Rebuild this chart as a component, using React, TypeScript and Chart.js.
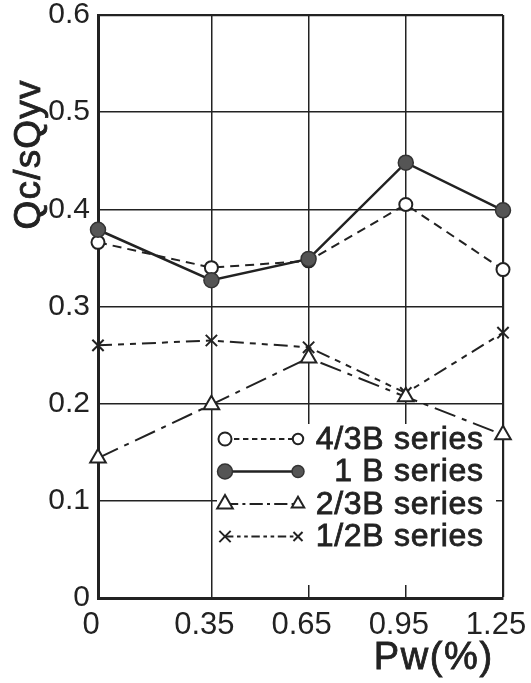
import React, { useEffect, useRef } from 'react';
import { Chart, registerables } from 'chart.js';
import { drawPoint } from 'chart.js/helpers';

Chart.register(...registerables);

// ---- data ----
const xValues = [0, 0.35, 0.65, 0.95, 1.25];
const xTickLabels = ['0', '0.35', '0.65', '0.95', '1.25'];
const yMin = 0;
const yMax = 0.6;
const yStep = 0.1;
const series43B = [0.366, 0.340, 0.347, 0.405, 0.338];
const series1B = [0.379, 0.327, 0.349, 0.448, 0.399];
const series23B = [0.144, 0.199, 0.247, 0.207, 0.168];
const series12B = [0.260, 0.265, 0.258, 0.211, 0.273];
const legendLabels = ['4/3B series', '1 B series', '2/3B series', '1/2B series'];
const yTitle = 'Qc/sQyv';
const xTitle = 'Pw(%)';

const FONT = '"Liberation Sans", Arial, sans-serif';
const INK = '#222';

const pts = (vals: number[]) => vals.map((v, i) => ({ x: xValues[i], y: v }));

function fitSpacing(ctx: CanvasRenderingContext2D, text: string, width: number) {
  ctx.letterSpacing = '0px';
  const w = ctx.measureText(text).width;
  return (width - w) / text.length;
}

// draw text with a thin stroke to mimic the heavier lettering of the original
function heavyText(ctx: CanvasRenderingContext2D, text: string, x: number, y: number) {
  ctx.lineWidth = 0.8;
  ctx.strokeStyle = ctx.fillStyle as string;
  ctx.setLineDash([]);
  ctx.fillText(text, x, y);
  ctx.strokeText(text, x, y);
}

export default function App() {
  const ref = useRef<HTMLCanvasElement | null>(null);

  useEffect(() => {
    document.body.style.margin = '0';
    const canvas = ref.current!;

    const datasets: any[] = [
      {
        label: legendLabels[0],
        data: pts(series43B),
        borderColor: INK,
        borderWidth: 2,
        borderDash: [9, 6],
        pointStyle: 'circle',
        pointRadius: 6.5,
        pointBackgroundColor: '#fff',
        pointBorderColor: INK,
        pointBorderWidth: 2,
        clip: false,
        order: 1,
      },
      {
        label: legendLabels[1],
        data: pts(series1B),
        borderColor: INK,
        borderWidth: 2.5,
        borderDash: [],
        pointStyle: 'circle',
        pointRadius: 7.5,
        pointBackgroundColor: '#555',
        pointBorderColor: '#333',
        pointBorderWidth: 1.5,
        clip: false,
        order: 0,
      },
      {
        label: legendLabels[2],
        data: pts(series23B),
        borderColor: INK,
        borderWidth: 2,
        borderDash: [22, 7, 5, 7],
        pointStyle: 'triangle',
        pointRadius: 9,
        pointBackgroundColor: '#fff',
        pointBorderColor: INK,
        pointBorderWidth: 2,
        clip: false,
        order: 2,
      },
      {
        label: legendLabels[3],
        data: pts(series12B),
        borderColor: INK,
        borderWidth: 2,
        borderDash: [14, 6, 6, 6, 6, 6],
        pointStyle: 'crossRot',
        pointRadius: 8,
        pointBackgroundColor: '#fff',
        pointBorderColor: INK,
        pointBorderWidth: 2,
        clip: false,
        order: 3,
      },
    ];

    const legendBox = { left: 217, right: 496, top: 424, bottom: 585 };

    const customPlugin = {
      id: 'custom',
      beforeDatasetsDraw(chart: any) {
        const ctx = chart.ctx as CanvasRenderingContext2D;
        ctx.save();
        ctx.fillStyle = '#fff';
        ctx.fillRect(legendBox.left, legendBox.top, legendBox.right - legendBox.left, legendBox.bottom - legendBox.top);
        ctx.restore();
      },
      afterDatasetsDraw(chart: any) {
        const ctx = chart.ctx as CanvasRenderingContext2D;
        ctx.save();
        // legend
        const rowTop = 439;
        const rowGap = 32.5;
        const x1 = 225;
        const x2 = 298;
        const textRight = 483;
        ctx.font = `32px ${FONT}`;
        const ls = fitSpacing(ctx, legendLabels[0], 168);
        datasets.forEach((ds, i) => {
          const y = rowTop + i * rowGap;
          ctx.save();
          ctx.strokeStyle = ds.borderColor;
          ctx.lineWidth = ds.borderWidth;
          ctx.setLineDash(ds.borderDash.map((d: number) => d * 0.6));
          ctx.beginPath();
          ctx.moveTo(x1, y);
          ctx.lineTo(x2, y);
          ctx.stroke();
          ctx.setLineDash([]);
          ctx.fillStyle = ds.pointBackgroundColor;
          ctx.strokeStyle = ds.pointBorderColor;
          ctx.lineWidth = ds.pointBorderWidth;
          drawPoint(ctx, { pointStyle: ds.pointStyle, radius: ds.pointRadius, rotation: 0, borderWidth: ds.pointBorderWidth } as any, x1, y);
          drawPoint(ctx, { pointStyle: ds.pointStyle, radius: ds.pointRadius * 0.8, rotation: 0, borderWidth: ds.pointBorderWidth } as any, x2, y);
          ctx.restore();
          ctx.font = `32px ${FONT}`;
          ctx.letterSpacing = `${ls}px`;
          ctx.fillStyle = INK;
          ctx.textAlign = 'right';
          ctx.textBaseline = 'middle';
          heavyText(ctx, ds.label, textRight + ls, y + 1);
        });

        // y title
        ctx.save();
        ctx.font = `37px ${FONT}`;
        const lsy = fitSpacing(ctx, yTitle, 150);
        ctx.letterSpacing = `${lsy}px`;
        ctx.translate(30, 155);
        ctx.rotate(-Math.PI / 2);
        ctx.fillStyle = INK;
        ctx.textAlign = 'center';
        ctx.textBaseline = 'middle';
        heavyText(ctx, yTitle, lsy / 2, 0);
        ctx.restore();

        // x title
        ctx.save();
        ctx.font = `38px ${FONT}`;
        const lsx = fitSpacing(ctx, xTitle, 120);
        ctx.letterSpacing = `${lsx}px`;
        ctx.fillStyle = INK;
        ctx.textAlign = 'center';
        ctx.textBaseline = 'middle';
        heavyText(ctx, xTitle, 433 + lsx / 2, 659);
        ctx.restore();

        ctx.restore();
      },
    };

    const chart = new Chart(canvas, {
      type: 'line',
      data: { datasets },
      options: {
        animation: false,
        responsive: false,
        maintainAspectRatio: false,
        layout: { padding: { top: 15, right: 28, left: 0, bottom: 0 } },
        plugins: { legend: { display: false }, tooltip: { enabled: false } },
        scales: {
          x: {
            type: 'linear',
            min: xValues[0],
            max: xValues[xValues.length - 1],
            afterBuildTicks: (scale: any) => {
              scale.ticks = xValues.map((v) => ({ value: v }));
            },
            afterFit: (scale: any) => {
              scale.height = 85;
              scale.paddingLeft = 0;
              scale.paddingRight = 0;
            },
            ticks: {
              autoSkip: false,
              maxRotation: 0,
              padding: 9,
              labelOffset: -7,
              color: INK,
              font: { family: FONT, size: 31 },
              callback: (v: any) => {
                const i = xValues.indexOf(Number(v));
                return i >= 0 ? xTickLabels[i] : '';
              },
            },
            grid: {
              drawTicks: false,
              color: INK,
              lineWidth: (c: any) => (c.tick && c.tick.value === xValues[xValues.length - 1] ? 2.2 : 1.5),
            },
            border: { display: true, color: INK, width: 3 },
          },
          y: {
            type: 'linear',
            min: yMin,
            max: yMax,
            afterFit: (scale: any) => {
              scale.width = 98;
              scale.paddingTop = 0;
              scale.paddingBottom = 0;
            },
            ticks: {
              stepSize: yStep,
              padding: 8,
              color: INK,
              font: { family: FONT, size: 30 },
              callback: (v: any) => (Number(v) === 0 ? '0' : Number(v).toFixed(1)),
            },
            grid: {
              drawTicks: false,
              color: INK,
              lineWidth: (c: any) => (c.tick && Math.abs(c.tick.value - yMax) < 1e-9 ? 2.2 : 1.5),
            },
            border: { display: true, color: INK, width: 3 },
          },
        },
      },
      plugins: [customPlugin],
    });

    return () => chart.destroy();
  }, []);

  return (
    <div style={{ width: 531, height: 683, background: '#fff' }}>
      <canvas ref={ref} width={531} height={683} style={{ display: 'block' }} />
    </div>
  );
}
